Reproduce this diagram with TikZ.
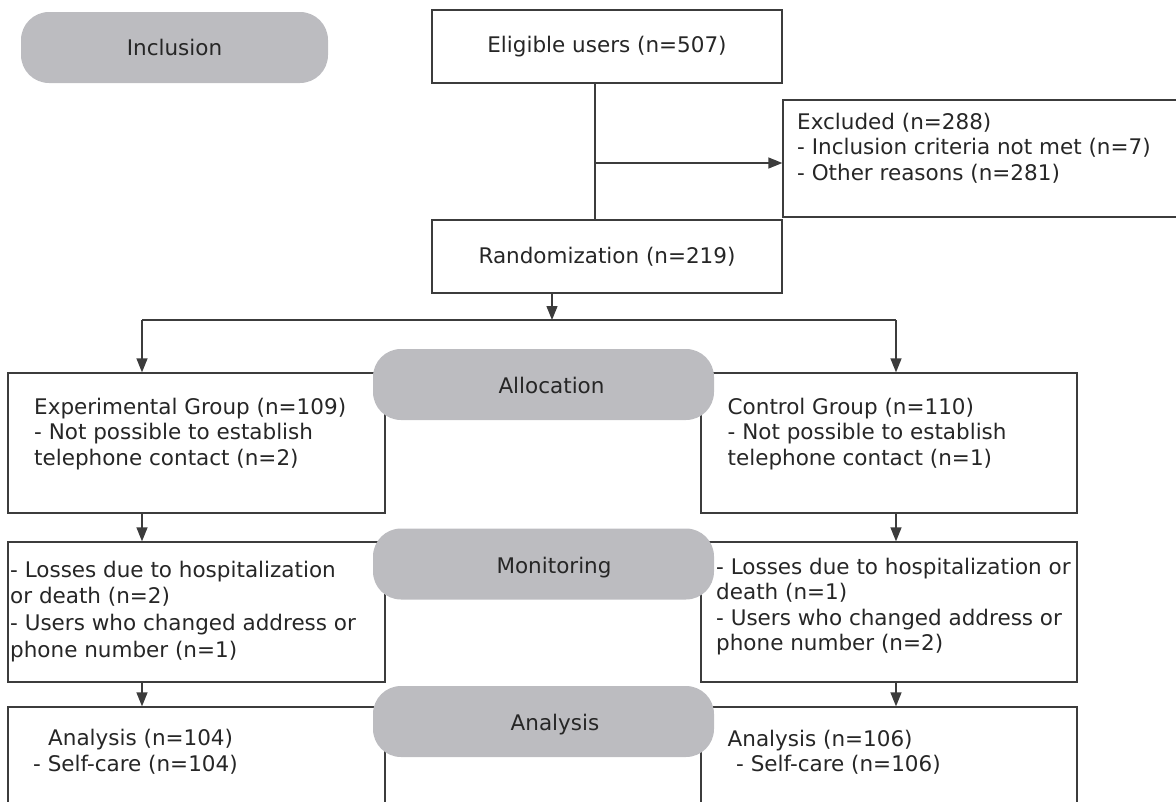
\documentclass[tikz,border=0pt]{standalone}
\usepackage{fontspec}
\setmainfont{DejaVu Sans}
\usetikzlibrary{arrows.meta}
\definecolor{pillgray}{RGB}{188,188,192}
\definecolor{linec}{RGB}{60,60,60}
\definecolor{txt}{RGB}{38,38,38}
\begin{document}
\begin{tikzpicture}[x=1pt,y=-1pt,
  every node/.style={text=txt, font=\fontsize{21.5}{25.5}\selectfont},
  box/.style={draw=linec, line width=1.3pt, rectangle, inner sep=0pt},
  pill/.style={fill=pillgray, rounded corners=28pt, inner sep=0pt, minimum height=71pt},
  txtblock/.style={anchor=north west, align=left, inner sep=0pt},
  arr/.style={draw=linec, line width=1.3pt, -{Triangle[length=14pt,width=11pt]}},
  ln/.style={draw=linec, line width=1.3pt}]
\useasboundingbox (0,0) rectangle (1176,801);
\clip (0,0) rectangle (1176,801);

% boxes
\node[box, minimum width=350pt, minimum height=73pt] (elig) at (607,46.5) {Eligible users (n=507)};
\node[box, minimum width=420pt, minimum height=117pt] (excl) at (993,158.5) {};
\node[txtblock] (exclt) at (797,112.7) {Excluded (n=288)\\- Inclusion criteria not met (n=7)\\- Other reasons (n=281)};
\node[box, minimum width=350pt, minimum height=73pt] (rand) at (607,256.5) {Randomization (n=219)};

\node[box, minimum width=377pt, minimum height=140pt] (exp) at (196.5,443) {};
\node[txtblock] (expt) at (34,397.7) {Experimental Group (n=109)\\- Not possible to establish\\telephone contact (n=2)};
\node[box, minimum width=376pt, minimum height=140pt] (ctrl) at (889,443) {};
\node[txtblock] (ctrlt) at (727.5,397.7) {Control Group (n=110)\\- Not possible to establish\\telephone contact (n=1)};

\node[box, minimum width=377pt, minimum height=140pt] (monL) at (196.5,612) {};
\node[txtblock] (monLt) at (10,560.7) {- Losses due to hospitalization\\[1.2pt]or death (n=2)\\[1.2pt]- Users who changed address or\\[1.2pt]phone number (n=1)};
\node[box, minimum width=376pt, minimum height=140pt] (monR) at (889,612) {};
\node[txtblock] (monRt) at (716,557.7) {- Losses due to hospitalization or\\death (n=1)\\- Users who changed address or\\phone number (n=2)};

\node[box, minimum width=377pt, minimum height=133pt] (anaL) at (196.5,773.5) {};
\node[txtblock] (anaLt) at (33,729.2) {\hspace{15pt}Analysis (n=104)\\- Self-care (n=104)};
\node[box, minimum width=376pt, minimum height=133pt] (anaR) at (889,773.5) {};
\node[txtblock] (anaRt) at (727.5,729.7) {Analysis (n=106)\\\hspace{8.5pt}- Self-care (n=106)};

% helper coordinates
\coordinate (vx) at (595,0);
\coordinate (exy) at (595,163);
\coordinate (split) at (552,320);
\coordinate (lx) at (142,0);
\coordinate (rx) at (896,0);

% connectors
\draw[ln] (elig.south -| vx) -- (rand.north -| vx);
\draw[arr] (exy) -- (exy -| excl.west);
\draw[arr] (rand.south -| split) -- (split);
\draw[ln] (split -| lx) -- (split -| rx);
\draw[arr] (split -| lx) -- (exp.north -| lx);
\draw[arr] (split -| rx) -- (ctrl.north -| rx);
\draw[arr] (exp.south -| lx) -- (monL.north -| lx);
\draw[arr] (ctrl.south -| rx) -- (monR.north -| rx);
\draw[arr] (monL.south -| lx) -- (anaL.north -| lx);
\draw[arr] (monR.south -| rx) -- (anaR.north -| rx);

% phase pills
\node[pill, minimum width=307pt] (pinc) at (174.5,47.5) {Inclusion};
\node[pill, minimum width=341pt] (palloc) at (543.5,384.5) {};
\node[anchor=base] (talloc) at (551.5,393) {Allocation};
\node[pill, minimum width=341pt] (pmon) at (543.5,564) {};
\node[anchor=base] (tmon) at (554,573) {Monitoring};
\node[pill, minimum width=341pt] (pana) at (543.5,721.5) {};
\node[anchor=base] (tana) at (555,730) {Analysis};
\end{tikzpicture}
\end{document}
